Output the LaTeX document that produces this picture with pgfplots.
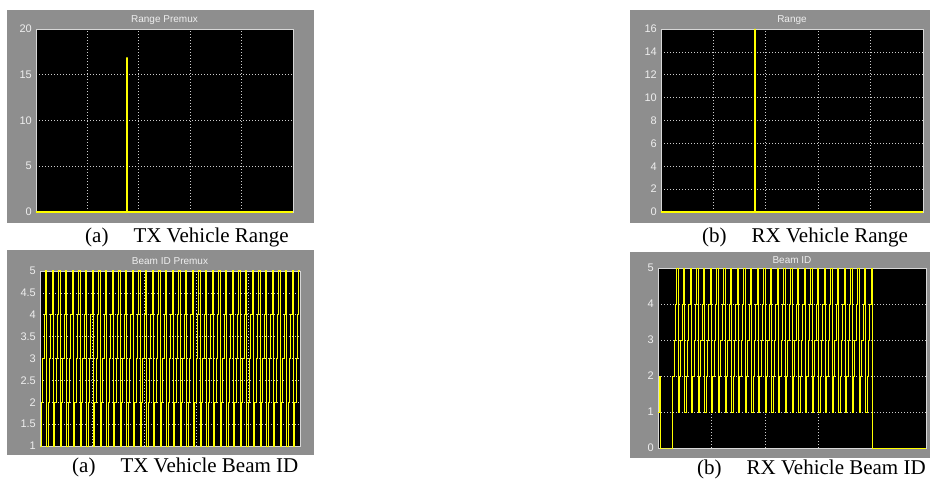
\documentclass[border=0pt]{standalone}
\usepackage{fontspec}
\setmainfont{Liberation Sans}
\newfontfamily\capfont{Liberation Serif}
\usepackage{pgfplots}
\pgfplotsset{compat=1.18}
\usepackage{pgfplotstable}
\definecolor{panel}{RGB}{142,142,142}
\definecolor{lab}{RGB}{238,238,238}
\definecolor{frm}{RGB}{215,215,215}
\definecolor{grd}{RGB}{205,205,205}
\definecolor{sig}{RGB}{255,255,0}

% TX beam ID premux: 39 sweeps 1..5, one value per sample
\pgfplotstableread[row sep=\\]{
b\\
1\\2\\3\\4\\5\\1\\2\\3\\4\\5\\1\\2\\3\\4\\5\\
1\\2\\3\\4\\5\\1\\2\\3\\4\\5\\1\\2\\3\\4\\5\\
1\\2\\3\\4\\5\\1\\2\\3\\4\\5\\1\\2\\3\\4\\5\\
1\\2\\3\\4\\5\\1\\2\\3\\4\\5\\1\\2\\3\\4\\5\\
1\\2\\3\\4\\5\\1\\2\\3\\4\\5\\1\\2\\3\\4\\5\\
1\\2\\3\\4\\5\\1\\2\\3\\4\\5\\1\\2\\3\\4\\5\\
1\\2\\3\\4\\5\\1\\2\\3\\4\\5\\1\\2\\3\\4\\5\\
1\\2\\3\\4\\5\\1\\2\\3\\4\\5\\1\\2\\3\\4\\5\\
1\\2\\3\\4\\5\\1\\2\\3\\4\\5\\1\\2\\3\\4\\5\\
1\\2\\3\\4\\5\\1\\2\\3\\4\\5\\1\\2\\3\\4\\5\\
1\\2\\3\\4\\5\\1\\2\\3\\4\\5\\1\\2\\3\\4\\5\\
1\\2\\3\\4\\5\\1\\2\\3\\4\\5\\1\\2\\3\\4\\5\\
1\\2\\3\\4\\5\\1\\2\\3\\4\\5\\1\\2\\3\\4\\5\\
5\\
}\txbeam

% RX beam ID
\pgfplotstableread[row sep=\\]{
b\\
1\\2\\
0\\0\\0\\0\\0\\0\\0\\0\\0\\
2\\3\\4\\5\\
1\\2\\3\\4\\5\\1\\2\\3\\4\\5\\1\\2\\3\\4\\5\\
1\\2\\3\\4\\5\\1\\2\\3\\4\\5\\1\\2\\3\\4\\5\\
1\\2\\3\\4\\5\\1\\2\\3\\4\\5\\1\\2\\3\\4\\5\\
1\\2\\3\\4\\5\\1\\2\\3\\4\\5\\1\\2\\3\\4\\5\\
1\\2\\3\\4\\5\\1\\2\\3\\4\\5\\1\\2\\3\\4\\5\\
1\\2\\3\\4\\5\\1\\2\\3\\4\\5\\1\\2\\3\\4\\5\\
1\\2\\3\\4\\5\\1\\2\\3\\4\\5\\1\\2\\3\\4\\5\\
1\\2\\3\\4\\5\\1\\2\\3\\4\\5\\1\\2\\3\\4\\5\\
1\\2\\3\\4\\5\\1\\2\\3\\4\\5\\1\\2\\3\\4\\5\\
1\\2\\3\\4\\5\\1\\2\\3\\4\\5\\
0\\
}\rxbeam

\pgfplotsset{
  scopeax/.style={
    scale only axis, clip=false, anchor=south west,
    axis background/.style={fill=black},
    axis line style={draw=frm, line width=0.7pt},
    major tick length=0pt, tick style={draw=none},
    grid=major,
    major grid style={draw=grd, line width=0.7pt, dash pattern=on 0.8pt off 2.2pt},
    xticklabels={},
    yticklabel style={font=\fontsize{11}{13}\selectfont, text=lab, inner sep=0pt, xshift=-4pt},
    /pgf/number format/assume math mode=true,
  }
}

\begin{document}
\begin{tikzpicture}
\fill[white] (0,0) rectangle (931pt,482pt);
\fill[panel] (7pt,259pt) rectangle (314pt,472pt);
\fill[panel] (630pt,259pt) rectangle (930pt,472pt);
\fill[panel] (7pt,27pt) rectangle (314pt,232pt);
\fill[panel] (630pt,24pt) rectangle (930pt,230pt);

% TX range premux
\begin{axis}[scopeax, at={(36pt,270pt)}, width=257pt, height=183pt,
  xmin=0, xmax=5, ymin=0, ymax=20, xtick={1,2,3,4}, ytick={0,5,10,15,20}]
\addplot[sig, line width=1.3pt] coordinates {(0,0) (1.77,0) (1.77,16.9) (1.77,0) (5,0)};
\end{axis}

% RX range
\begin{axis}[scopeax, at={(661pt,270pt)}, width=262pt, height=183pt,
  xmin=0, xmax=5, ymin=0, ymax=16, xtick={1,2,3,4}, ytick={0,2,4,6,8,10,12,14,16}]
\addplot[sig, line width=1.6pt] coordinates {(0,0) (1.79,0) (1.79,16) (1.79,0) (5,0)};
\end{axis}

% TX beam ID premux
\begin{axis}[scopeax, at={(40pt,36pt)}, width=260pt, height=175pt,
  xmin=0, xmax=195, ymin=1, ymax=5, xtick={39,78,117,156},
  ytick={1,1.5,2,2.5,3,3.5,4,4.5,5}]
\addplot[sig, line width=1pt, const plot] table[x expr=\coordindex, y=b] {\txbeam};
\end{axis}

% RX beam ID
\begin{axis}[scopeax, at={(658pt,34pt)}, width=268pt, height=180pt,
  xmin=0, xmax=200, ymin=0, ymax=5, xtick={40,80,120,160},
  ytick={0,1,2,3,4,5}]
\addplot[sig, line width=1pt, const plot] table[x expr=\coordindex, y=b] {\rxbeam};
\addplot[sig, line width=1pt] coordinates {(160,0) (200,0)};
\end{axis}

% titles
\node[anchor=base, inner sep=0pt, text=lab, font=\fontsize{10}{12}\selectfont] at (164.5pt,459.5pt) {Range Premux};
\node[anchor=base, inner sep=0pt, text=lab, font=\fontsize{10}{12}\selectfont] at (792pt,459.5pt) {Range};
\node[anchor=base, inner sep=0pt, text=lab, font=\fontsize{10}{12}\selectfont] at (170pt,217.5pt) {Beam ID Premux};
\node[anchor=base, inner sep=0pt, text=lab, font=\fontsize{10}{12}\selectfont] at (792pt,218.5pt) {Beam ID};

% captions
\node[anchor=base west, inner sep=0pt, font=\capfont\fontsize{21}{24}\selectfont] at (85pt,239pt) {(a)\hspace{25pt}TX Vehicle Range};
\node[anchor=base west, inner sep=0pt, font=\capfont\fontsize{21}{24}\selectfont] at (702pt,239pt) {(b)\hspace{25pt}RX Vehicle Range};
\node[anchor=base west, inner sep=0pt, font=\capfont\fontsize{21}{24}\selectfont] at (72pt,10pt) {(a)\hspace{25pt}TX Vehicle Beam ID};
\node[anchor=base west, inner sep=0pt, font=\capfont\fontsize{21}{24}\selectfont] at (697pt,8pt) {(b)\hspace{25pt}RX Vehicle Beam ID};
\end{tikzpicture}
\end{document}
